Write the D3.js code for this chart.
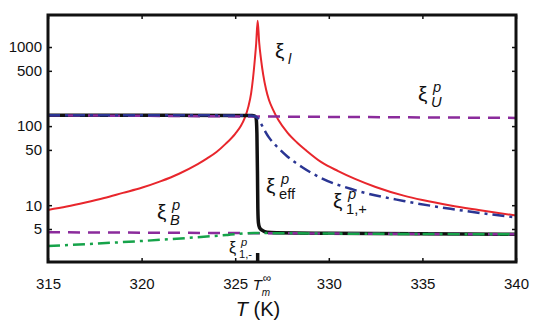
<!DOCTYPE html>
<html>
<head>
<meta charset="utf-8">
<script src="https://cdn.jsdelivr.net/npm/d3@7"></script>
<style>
  body { margin: 0; background: #fff; }
  text { font-family: "Liberation Sans", Arial, sans-serif; fill: #111; }
</style>
</head>
<body>
<script>
// correlation lengths vs temperature, log y axis

// tick labels
var xTicks = [315, 320, 325, 330, 335, 340];
var yTicks = [5, 10, 50, 100, 500, 1000];
var tMelt = 326.2;

// xi_l (red)
var redT = [315, 316, 317, 318, 319, 320, 321, 322, 323, 323.5, 324, 324.5, 325, 325.3, 325.5, 325.7, 325.85, 325.95, 326.05, 326.12, 326.2,
            326.28, 326.38, 326.5, 326.65, 326.8, 327, 327.3, 327.8, 328.3, 328.8, 329.6, 330.5, 331.4, 332.5, 334, 335, 336.5, 338, 340];
var redV = [8.7, 9.6, 10.8, 12.3, 14.3, 16.6, 20, 25, 33, 39, 47, 60, 80, 100, 125, 175, 260, 400, 700, 1100, 2150,
            1150, 700, 440, 290, 215, 165, 120, 82, 62, 49, 35, 27, 21.5, 17, 13.2, 11.6, 9.9, 8.7, 7.4];

// xi_eff (black)
var blackT = [315, 320, 325, 325.9, 326.05, 326.12, 326.16, 326.19, 326.21, 326.24, 326.3, 326.45, 326.7, 327.2, 330, 335, 340];
var blackV = [137, 137, 136.5, 136, 134, 125, 80, 25, 9, 6, 5.2, 4.8, 4.55, 4.48, 4.42, 4.35, 4.3];

// xi_1,+ (blue)
var blueT = [315, 320, 325, 325.8, 326.0, 326.2, 326.4, 326.6, 326.8, 327.2, 327.8, 328.6, 329.6, 331.4, 334, 336.5, 340];
var blueV = [137, 137, 136.5, 136, 134, 126, 105, 86, 72, 56, 41, 30, 22, 15.5, 11.3, 9.0, 7.0];

// xi_1,- (green)
var greenT = [315, 320.3, 324.6, 326, 327, 330, 335, 340];
var greenV = [3.05, 3.56, 4.2, 4.45, 4.43, 4.38, 4.32, 4.28];

// xi_U and xi_B (purple)
var uT = [315, 327, 340];
var uV = [137, 132, 127];
var bT = [315, 340];
var bV = [4.55, 4.28];

var w = 545, h = 327;
var margin = {top: 15, right: 29, bottom: 65, left: 48};

var svg = d3.select("body").append("svg")
  .attr("width", w).attr("height", h);

var x = d3.scaleLinear().domain([315, 340]).range([margin.left, w - margin.right]);
var y = d3.scaleLog().domain([1.913, 2540]).range([h - margin.bottom, margin.top]);

function pts(ts, vs) { return ts.map(function(t, i) { return [t, vs[i]]; }); }

var line = d3.line()
  .x(function(d) { return x(d[0]); })
  .y(function(d) { return y(d[1]); })
  .curve(d3.curveMonotoneX);

var plot = svg.append("g");

plot.append("path").datum(pts(redT, redV))
  .attr("d", line).attr("fill", "none").attr("stroke", "#e8262c").attr("stroke-width", 2);

plot.append("path").datum(pts(blackT, blackV))
  .attr("d", line).attr("fill", "none").attr("stroke", "#111").attr("stroke-width", 3.5);

plot.append("path").datum(pts(uT, uV))
  .attr("d", line).attr("fill", "none").attr("stroke", "#8b2b9c").attr("stroke-width", 2.5)
  .attr("stroke-dasharray", "12,8");

plot.append("path").datum(pts(bT, bV))
  .attr("d", line).attr("fill", "none").attr("stroke", "#8b2b9c").attr("stroke-width", 2.5)
  .attr("stroke-dasharray", "12,8");

plot.append("path").datum(pts(greenT, greenV))
  .attr("d", line).attr("fill", "none").attr("stroke", "#16a34a").attr("stroke-width", 2.5)
  .attr("stroke-dasharray", "12,5,3,5");

plot.append("path").datum(pts(blueT, blueV))
  .attr("d", line).attr("fill", "none").attr("stroke", "#2a3593").attr("stroke-width", 2.5)
  .attr("stroke-dasharray", "12,5,3,5");

// axes with inward ticks
var xAxis = svg.append("g")
  .attr("transform", "translate(0," + (h - margin.bottom) + ")")
  .call(d3.axisBottom(x).tickValues(xTicks).tickSize(-4).tickPadding(16));
var xTop = svg.append("g")
  .attr("transform", "translate(0," + margin.top + ")")
  .call(d3.axisTop(x).tickValues(xTicks).tickSize(-4).tickFormat(""));
var yAxis = svg.append("g")
  .attr("transform", "translate(" + margin.left + ",0)")
  .call(d3.axisLeft(y).tickValues(yTicks).tickFormat(d3.format("d")).tickSize(-4).tickPadding(6));
var yRight = svg.append("g")
  .attr("transform", "translate(" + (w - margin.right) + ",0)")
  .call(d3.axisRight(y).tickValues(yTicks).tickSize(-4).tickFormat(""));

[xAxis, xTop, yAxis, yRight].forEach(function(a) {
  a.select(".domain").remove();
  a.selectAll("line").attr("stroke", "#111").attr("stroke-width", 1.5);
  a.selectAll("text").attr("font-size", 15).attr("fill", "#111")
    .style("font-family", "'Liberation Sans', Arial, sans-serif");
});

// frame
svg.append("rect")
  .attr("x", margin.left).attr("y", margin.top)
  .attr("width", w - margin.left - margin.right)
  .attr("height", h - margin.top - margin.bottom)
  .attr("fill", "none").attr("stroke", "#111").attr("stroke-width", 3);

// melting temperature marker
svg.append("line")
  .attr("x1", x(tMelt)).attr("x2", x(tMelt))
  .attr("y1", h - margin.bottom).attr("y2", h - margin.bottom - 9)
  .attr("stroke", "#111").attr("stroke-width", 3.5);

function addText(px, py, str, size, italic, anchor) {
  svg.append("text").attr("x", px).attr("y", py)
    .attr("font-size", size)
    .attr("font-style", italic ? "italic" : "normal")
    .attr("text-anchor", anchor || "start")
    .text(str);
}

// T_m^inf
addText(x(tMelt) - 5, 290, "T", 15, true);
addText(x(tMelt) + 4, 296, "m", 10, true);
addText(x(tMelt) + 5, 282, "\u221E", 12, false);

// axis title
var title = svg.append("text").attr("x", 258).attr("y", 316)
  .attr("text-anchor", "middle").attr("font-size", 20);
title.append("tspan").attr("font-style", "italic").text("T");
title.append("tspan").text(" (K)");

// curve labels: xi with sub/superscripts
function xiLabel(px, py, sup, sub, size, subItalic) {
  addText(px, py, "\u03BE", size, false);
  var dx = size * 0.62;
  if (sup) addText(px + dx + 2, py - size * 0.45, sup, size * 0.7, true);
  if (sub) addText(px + dx, py + size * 0.3, sub, size * 0.7, subItalic);
}

xiLabel(275, 58, null, "l", 21, true);
xiLabel(418, 101, "p", "U", 21, true);
xiLabel(266, 193, "p", "eff", 21, false);
xiLabel(333, 208, "p", "1,+", 21, false);
xiLabel(157, 219, "p", "B", 21, true);
xiLabel(229, 253, "p", "1,-", 16, false);
</script>
</body>
</html>
